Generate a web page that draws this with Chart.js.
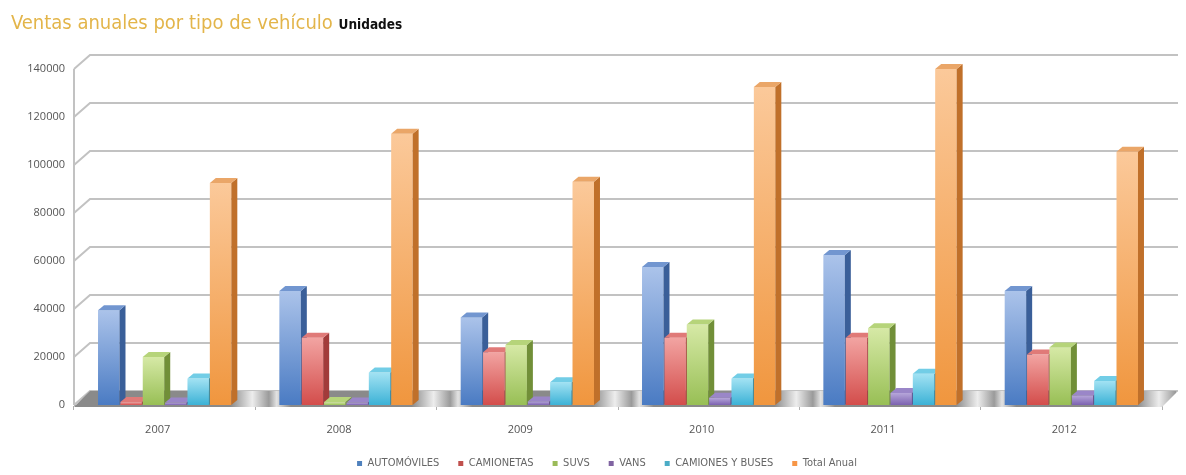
<!DOCTYPE html>
<html>
<head>
<meta charset="utf-8">
<script src="https://cdn.jsdelivr.net/npm/chart.js@4.4.1/dist/chart.umd.min.js"></script>
<style>
  html, body { margin: 0; padding: 0; background: #fff; }
  #wrap { position: relative; width: 1186px; height: 475px; }
  #title {
    position: absolute; left: 11px; top: 10px; white-space: nowrap;
    font-family: "Liberation Sans Narrow", "DejaVu Sans Condensed", sans-serif;
    font-size: 20px; color: #e3b54a;
  }
  #title span { color: #111; font-weight: bold; font-size: 13.5px; }
  canvas { position: absolute; left: 0; top: 0; }
</style>
</head>
<body>
<div id="wrap">
  <canvas id="chart" width="1186" height="475"></canvas>
  <div id="title">Ventas anuales por tipo de vehículo <span>Unidades</span></div>
</div>
<script>
// values (units)
const years = ['2007', '2008', '2009', '2010', '2011', '2012'];
const automoviles   = [39500, 47500, 36500, 57500, 62500, 47500];
const camionetas    = [1200, 28000, 22000, 28000, 28000, 21000];
const suvs          = [20000, 1200, 25000, 33500, 32000, 24000];
const vans          = [1000, 1000, 1500, 3000, 5000, 4000];
const camionesBuses = [11000, 13500, 9500, 11000, 13000, 10000];
const totalAnual    = [92500, 113000, 93000, 132500, 140000, 105500];
const seriesNames = ['AUTOMÓVILES', 'CAMIONETAS', 'SUVS', 'VANS', 'CAMIONES Y BUSES', 'Total Anual'];

// colours: legend / face-top / face-bottom / side / cap
const baseColors = ['#4f81bd', '#c0504d', '#9bbb59', '#8064a2', '#4bacc6', '#f79646'];
const faceTop    = ['#abc3ea', '#f2a4a2', '#d6e9a6', '#b6a6da', '#a2e2f3', '#fbc99a'];
const faceBottom = ['#4a7bc3', '#d34d4b', '#98bf55', '#7c62b0', '#3cb2d6', '#f0963e'];
const sideColors = ['#3a5f99', '#a23b3a', '#718f38', '#5c4889', '#2c88a6', '#c0702a'];
const capColors  = ['#7296d0', '#e07a78', '#b6d47a', '#9a86c8', '#72cde6', '#eaa668'];

const DX = 6, DY = 5;          // bar depth
const WX = 16, WY = 14;        // wall depth
const LEGEND_SHIFT = 26;       // legend sits a bit right of centre in the original

// faces are painted by the 3d plugin, so the library's own bars stay transparent
function faceFill(i) {
  return (ctx) => ctx.type === 'data' ? 'rgba(0,0,0,0)' : baseColors[i];
}

const box3d = {
  id: 'box3d',
  afterLayout(chart) {
    if (chart.legend) {
      chart.legend.left += LEGEND_SHIFT;
      chart.legend.right += LEGEND_SHIFT;
    }
  },
  beforeDatasetsDraw(chart) {
    const { ctx, chartArea: a, scales: { y } } = chart;
    ctx.save();
    // back wall grid + left wall connectors
    ctx.strokeStyle = '#c2c2c2';
    ctx.lineWidth = 2;
    y.ticks.forEach(t => {
      const py = y.getPixelForValue(t.value);
      ctx.beginPath();
      ctx.moveTo(a.left, py);
      ctx.lineTo(a.left + WX, py - WY);
      ctx.lineTo(a.right + WX, py - WY);
      ctx.stroke();
    });
    ctx.beginPath();
    ctx.moveTo(a.left, a.top);
    ctx.lineTo(a.left, a.bottom);
    ctx.stroke();
    // floor, darker under the groups, shiny between them
    const fy = y.getPixelForValue(0);
    const g = ctx.createLinearGradient(a.left, 0, a.right + WX, 0);
    const span = a.right + WX - a.left;
    const step = (a.right - a.left) / years.length;
    g.addColorStop(0, '#8a8a8a');
    for (let j = 1; j <= years.length; j++) {
      const bx = a.left + step * j + 8;
      const p = (bx - a.left) / span;
      g.addColorStop(Math.max(0, p - 0.03), '#8a8a8a');
      g.addColorStop(Math.max(0, p - 0.01), '#ededed');
      g.addColorStop(Math.min(1, p + 0.005), '#9a9a9a');
      g.addColorStop(Math.min(1, p + 0.012), '#e2e2e2');
      g.addColorStop(Math.min(1, p + 0.025), '#8a8a8a');
    }
    ctx.fillStyle = g;
    ctx.beginPath();
    ctx.moveTo(a.left, fy + 2);
    ctx.lineTo(a.right, fy + 2);
    ctx.lineTo(a.right + WX, fy - WY);
    ctx.lineTo(a.left + WX, fy - WY);
    ctx.closePath();
    ctx.fill();
    ctx.restore();
  },
  afterDatasetsDraw(chart) {
    const { ctx, scales: { y } } = chart;
    const metas = chart.data.datasets.map((d, i) => chart.getDatasetMeta(i));
    const y0 = y.getPixelForValue(0);
    ctx.save();
    for (let j = 0; j < years.length; j++) {
      metas.forEach((meta, i) => {
        const bar = meta.data[j];
        if (!bar) return;
        const { x, y: top, base, width } = bar.getProps(['x', 'y', 'base', 'width'], true);
        const l = x - width / 2, r = x + width / 2;
        const fg = ctx.createLinearGradient(0, top, 0, y0);
        fg.addColorStop(0, faceTop[i]);
        fg.addColorStop(1, faceBottom[i]);
        ctx.fillStyle = fg;
        ctx.fillRect(l, top, width, base - top);
        ctx.fillStyle = sideColors[i];
        ctx.beginPath();
        ctx.moveTo(r, top);
        ctx.lineTo(r + DX, top - DY);
        ctx.lineTo(r + DX, base - DY);
        ctx.lineTo(r, base);
        ctx.closePath();
        ctx.fill();
        ctx.fillStyle = capColors[i];
        ctx.beginPath();
        ctx.moveTo(l, top);
        ctx.lineTo(r, top);
        ctx.lineTo(r + DX, top - DY);
        ctx.lineTo(l + DX, top - DY);
        ctx.closePath();
        ctx.fill();
      });
    }
    ctx.restore();
  }
};

const seriesData = [automoviles, camionetas, suvs, vans, camionesBuses, totalAnual];

new Chart(document.getElementById('chart'), {
  type: 'bar',
  data: {
    labels: years,
    datasets: seriesData.map((d, i) => ({
      label: seriesNames[i],
      data: d,
      backgroundColor: faceFill(i),
      borderWidth: 0,
      barPercentage: 0.96,
      categoryPercentage: 0.74
    }))
  },
  options: {
    responsive: false,
    animation: false,
    layout: { padding: { top: 69, right: 24, left: 0, bottom: -4 } },
    plugins: {
      tooltip: { enabled: false },
      legend: {
        position: 'bottom',
        labels: {
          boxWidth: 5, boxHeight: 5, padding: 19,
          color: '#666',
          font: { family: '"Liberation Sans Narrow", "DejaVu Sans Condensed", sans-serif', size: 11 },
          generateLabels: chart =>
            Chart.defaults.plugins.legend.labels.generateLabels(chart).map(item => ({
              ...item,
              fillStyle: baseColors[item.datasetIndex],
              strokeStyle: baseColors[item.datasetIndex],
              lineWidth: 0
            }))
        }
      }
    },
    scales: {
      x: {
        grid: { display: true, drawOnChartArea: false, drawTicks: true, tickLength: 5, color: '#b0b0b0', offset: true },
        border: { display: true, color: '#b0b0b0', width: 1 },
        ticks: { color: '#555', padding: 13, labelOffset: -7,
                 font: { family: '"Open Sans", sans-serif', size: 11 } },
        afterFit: s => { s.height = 34; }
      },
      y: {
        min: 0, max: 140000,
        grid: { display: false, drawTicks: false },
        border: { display: false },
        ticks: { stepSize: 20000, color: '#555', padding: 9,
                 callback: v => String(v),
                 font: { family: '"Open Sans", sans-serif', size: 11 } },
        afterFit: s => { s.width = 74; }
      }
    }
  },
  plugins: [box3d]
});
</script>
</body>
</html>
